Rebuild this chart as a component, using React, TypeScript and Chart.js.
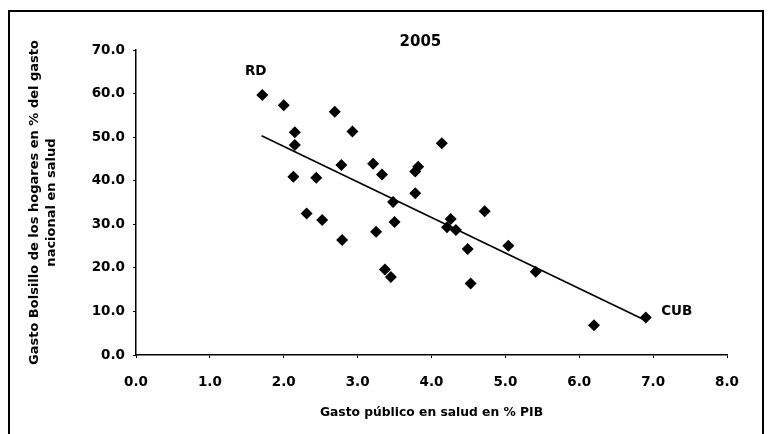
import React, { useEffect, useRef } from "react";
import { Chart, registerables } from "chart.js";

Chart.register(...registerables);

// Gasto público en salud (% PIB) vs gasto de bolsillo (% gasto nacional en salud), 2005
const gastoPublico = [
  1.71, 2.0, 2.15, 2.15, 2.13, 2.44, 2.31, 2.52, 2.69, 2.93, 2.78, 2.79, 3.21, 3.33, 3.25, 3.48,
  3.5, 3.37, 3.45, 3.82, 3.78, 3.78, 4.14, 4.26, 4.21, 4.33, 4.49, 4.53, 4.72, 5.04, 5.41, 6.2, 6.9,
];
const gastoBolsillo = [
  59.7, 57.3, 51.1, 48.2, 40.9, 40.7, 32.5, 31.0, 55.8, 51.3, 43.6, 26.4, 43.9, 41.4, 28.3, 35.1,
  30.5, 19.6, 17.9, 43.2, 42.1, 37.1, 48.6, 31.2, 29.3, 28.7, 24.3, 16.4, 33.0, 25.1, 19.1, 6.8, 8.6,
];
const trendX = [1.7, 6.9];
const trendY = [50.3, 7.9];

const chartTitle = "2005";
const xTitle = "Gasto público en salud en % PIB";
const yTitle = ["Gasto Bolsillo de los hogares en % del gasto", "nacional en salud"];
const pointLabels = ["RD", "CUB"];
const pointLabelX = [1.62, 7.32];
const pointLabelY = [65.0, 9.9];
const titleX = 3.85;
const titleY = 71.8;

const FONT = "'DejaVu Sans', sans-serif";

const labelPlugin = {
  id: "labelPlugin",
  afterDraw(chart: any) {
    const { ctx, scales } = chart;
    const xs = scales.x;
    const ys = scales.y;
    ctx.save();
    ctx.fillStyle = "#000";
    ctx.textAlign = "center";
    ctx.textBaseline = "middle";
    ctx.font = `bold 15px ${FONT}`;
    ctx.fillText(chartTitle, xs.getPixelForValue(titleX), ys.getPixelForValue(titleY));
    ctx.font = `bold 13.5px ${FONT}`;
    pointLabels.forEach((t, i) => {
      ctx.fillText(t, xs.getPixelForValue(pointLabelX[i]), ys.getPixelForValue(pointLabelY[i]));
    });
    ctx.restore();
  },
};

export default function App() {
  const ref = useRef<HTMLCanvasElement | null>(null);
  useEffect(() => {
    if (!ref.current) return;
    const scatter = gastoPublico.map((x, i) => ({ x, y: gastoBolsillo[i] }));
    const trend = trendX.map((x, i) => ({ x, y: trendY[i] }));
    const chart = new Chart(ref.current, {
      type: "scatter",
      data: {
        datasets: [
          {
            type: "line",
            data: trend,
            borderColor: "#000",
            borderWidth: 1.7,
            pointRadius: 0,
            fill: false,
          },
          {
            data: scatter,
            pointStyle: "rectRot",
            pointRadius: 6,
            backgroundColor: "#000",
            borderColor: "#000",
            borderWidth: 0,
          },
        ],
      },
      plugins: [labelPlugin],
      options: {
        responsive: false,
        animation: false,
        devicePixelRatio: 1,
        layout: { padding: { top: 38, right: 35, left: 0, bottom: 0 } },
        plugins: { legend: { display: false }, tooltip: { enabled: false }, title: { display: false } },
        scales: {
          x: {
            type: "linear",
            min: 0,
            max: 8,
            afterFit: (s: any) => {
              s.height = 93;
            },
            ticks: {
              stepSize: 1,
              color: "#000",
              padding: 16,
              font: { family: FONT, size: 13.5, weight: "bold" },
              callback: (v: any) => Number(v).toFixed(1),
            },
            grid: { display: true, drawOnChartArea: false, drawTicks: true, tickLength: 3, color: "#000" },
            border: { display: true, color: "#000", width: 1.5 },
            title: {
              display: true,
              text: xTitle,
              color: "#000",
              font: { family: FONT, size: 12.3, weight: "bold" },
              padding: { top: 0, bottom: 28 },
            },
          },
          y: {
            type: "linear",
            min: 0,
            max: 70,
            afterFit: (s: any) => {
              s.width = 126;
            },
            ticks: {
              stepSize: 10,
              color: "#000",
              padding: 8,
              font: { family: FONT, size: 13.5, weight: "bold" },
              callback: (v: any) => Number(v).toFixed(1),
            },
            grid: { display: true, drawOnChartArea: false, drawTicks: true, tickLength: 3, color: "#000" },
            border: { display: true, color: "#000", width: 1.5 },
            title: {
              display: true,
              text: yTitle,
              color: "#000",
              font: { family: FONT, size: 13, weight: "bold", lineHeight: 1.3 },
              padding: { top: 16.5, bottom: 0 },
            },
          },
        },
      },
    } as any);
    return () => chart.destroy();
  }, []);
  return (
    <div
      style={{
        marginTop: 2,
        width: 756,
        height: 440,
        border: "2px solid #000",
        boxSizing: "border-box",
        background: "#fff",
      }}
    >
      <canvas ref={ref} width={752} height={436} style={{ display: "block" }} />
    </div>
  );
}
